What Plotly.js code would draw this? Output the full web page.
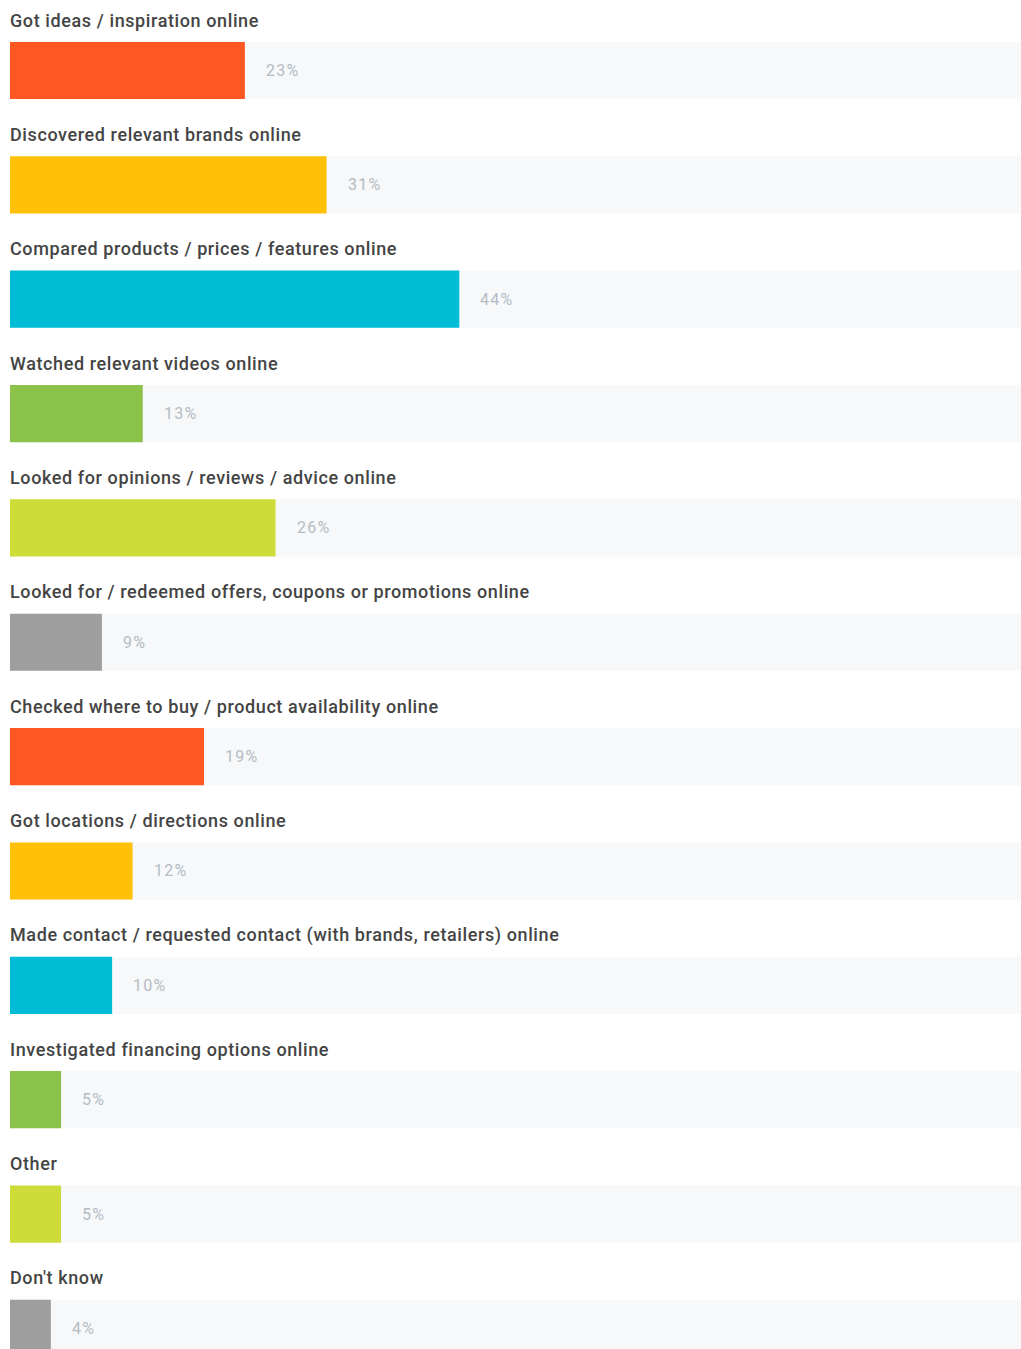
<!DOCTYPE html>
<html>
<head>
<meta charset="utf-8">
<script src="https://cdn.plot.ly/plotly-3.0.1.min.js"></script>
<style>
  html, body { margin: 0; padding: 0; background: #ffffff; }
  #chart { width: 1021px; height: 1349px; }
</style>
</head>
<body>
<div id="chart"></div>
<script>
const categories = [
  "Got ideas / inspiration online",
  "Discovered relevant brands online",
  "Compared products / prices / features online",
  "Watched relevant videos online",
  "Looked for opinions / reviews / advice online",
  "Looked for / redeemed offers, coupons or promotions online",
  "Checked where to buy / product availability online",
  "Got locations / directions online",
  "Made contact / requested contact (with brands, retailers) online",
  "Investigated financing options online",
  "Other",
  "Don't know"
];
const values = [23, 31, 44, 13, 26, 9, 19, 12, 10, 5, 5, 4];
const palette = ["#ff5722", "#ffc107", "#00bcd4", "#8bc34a", "#cddc39", "#9e9e9e"];
const trackMax = 100;

const idx = categories.map((_, i) => i);
const barColors = idx.map(i => palette[i % palette.length]);

const track = {
  type: "bar", orientation: "h",
  x: idx.map(() => trackMax), y: idx,
  width: 0.5,
  marker: { color: "#f6f8fa", line: { width: 0 } },
  hoverinfo: "skip", showlegend: false
};
const bars = {
  type: "bar", orientation: "h",
  x: values, y: idx,
  width: 0.5,
  marker: { color: barColors, line: { width: 0 }, cornerradius: 4 },
  hoverinfo: "skip", showlegend: false
};

const annotations = [];
categories.forEach((c, i) => {
  annotations.push({
    x: 0, y: i, xref: "x", yref: "y",
    text: c, showarrow: false, align: "left",
    xanchor: "left", yanchor: "middle", yshift: 50.5, xshift: -2,
    font: { family: "Roboto, sans-serif", size: 18, weight: 500, color: "#444444" }
  });
  annotations.push({
    x: values[i], y: i, xref: "x", yref: "y",
    text: values[i] + "%", showarrow: false, align: "left",
    xanchor: "left", yanchor: "middle", xshift: 19,
    font: { family: "Roboto, sans-serif", size: 16, color: "#b4bcc4" }
  });
});

const layout = {
  width: 1021, height: 1349,
  margin: { l: 10, r: 0, t: 0, b: 0, pad: 0 },
  paper_bgcolor: "#ffffff", plot_bgcolor: "#ffffff",
  barmode: "overlay",
  xaxis: { range: [0, 99], showgrid: false, zeroline: false, showticklabels: false, showline: false, fixedrange: true },
  yaxis: { range: [11.18, -0.6165], showgrid: false, zeroline: false, showticklabels: false, showline: false, fixedrange: true },
  annotations: annotations,
  font: { family: "Roboto, sans-serif" }
};

Plotly.newPlot("chart", [track, bars], layout, { displayModeBar: false, staticPlot: true }).then(() => {
  document.querySelectorAll("#chart .annotation-text").forEach(el => {
    const isValue = /%$/.test(el.textContent);
    el.style.letterSpacing = isValue ? "1.3px" : "0.6px";
  });
});
</script>
</body>
</html>
